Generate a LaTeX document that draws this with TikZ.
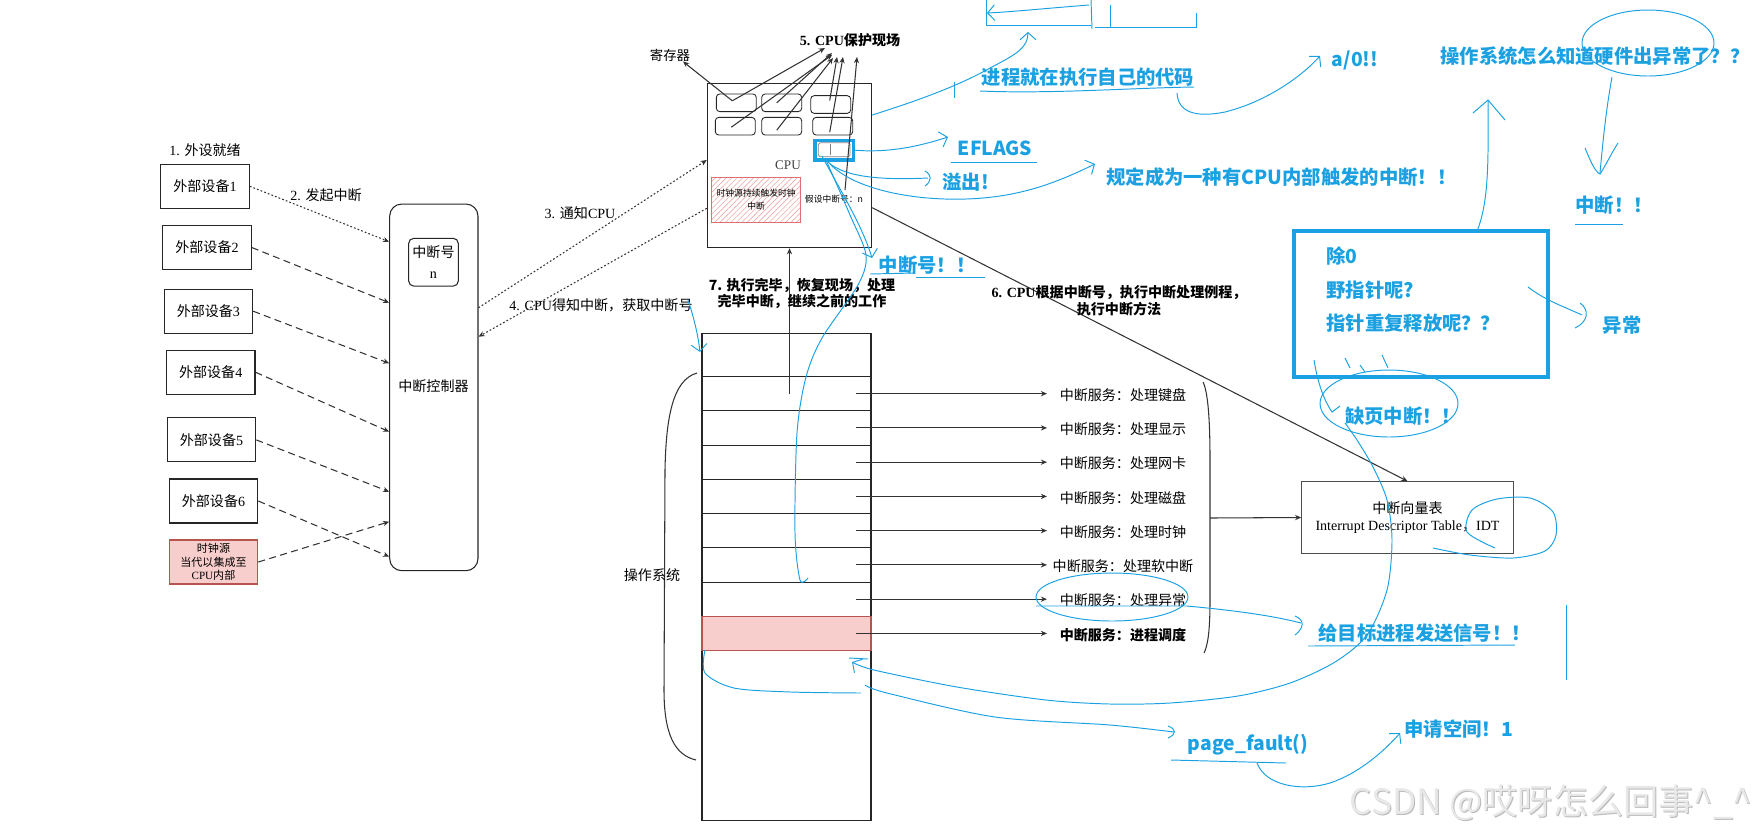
\documentclass[tikz,border=0pt]{standalone}
\usepackage{fontspec}
\setmainfont{Liberation Serif}
\newfontfamily\cjk{Noto Sans CJK SC}
\newcommand{\zh}[1]{{\cjk #1}}
\usetikzlibrary{arrows.meta, calc, patterns.meta}
\definecolor{hblue}{HTML}{1BA1E2}
\definecolor{pinkfill}{HTML}{F8CECC}
\definecolor{pinkline}{HTML}{B85450}
\definecolor{hatchred}{HTML}{E07070}

\begin{document}
\begin{tikzpicture}[x=0.02cm, y=-0.02cm, >={Stealth[length=3.5pt,width=3pt]},
  every node/.style={font=\fontsize{8}{9.6}\selectfont, inner sep=0pt},
  dev/.style={draw=black!85, line width=0.6pt, minimum width=1.772cm, minimum height=0.88cm, align=center},
  reg/.style={draw=black!85, line width=0.5pt, rounded corners=2pt, minimum width=0.8cm, minimum height=0.354cm},
  cell/.style={draw=black!85, line width=0.6pt, minimum width=3.38cm, minimum height=0.685cm, anchor=north},
  conn/.style={draw=black!80, line width=0.6pt},
  irqline/.style={conn, dash pattern=on 4pt off 2.5pt},
  dotline/.style={conn, dash pattern=on 1pt off 1.2pt},
  svc/.style={font=\cjk\fontsize{8}{9.6}\selectfont},
  hand/.style={draw=hblue, line width=0.55pt},
  handarrow/.style={hand, -{Straight Barb[length=4pt,width=9pt]}},
  note/.style={text=hblue, font=\cjk\bfseries\fontsize{11}{13}\selectfont},
]
\useasboundingbox (0,0) rectangle (1754,833);

% devices and interrupt controller
\node (ready) at (205,150) {1. \zh{外设就绪}};
\node[dev] (dev1) at (205,186.3) {\zh{外部设备}1};
\node[dev] (dev2) at (207,247.5) {\zh{外部设备}2};
\node[dev] (dev3) at (208.4,311.2) {\zh{外部设备}3};
\node[dev] (dev4) at (210.7,372.2) {\zh{外部设备}4};
\node[dev] (dev5) at (211.5,439.9) {\zh{外部设备}5};
\node[dev] (dev6) at (213.5,501) {\zh{外部设备}6};
\node[dev, fill=pinkfill, draw=pinkline, font=\fontsize{6.3}{7.6}\selectfont] (clk) at (213.5,562) {\zh{时钟源}\\\zh{当代以集成至}\\CPU\zh{内部}};

\node[draw=black!85, line width=0.6pt, rounded corners=0.24cm, minimum width=1.766cm, minimum height=7.334cm] (ctrl) at (433.85,387.35) {};
\node (ctrlname) at (433.5,386) {\zh{中断控制器}};
\node[draw=black!85, line width=0.6pt, rounded corners=0.1cm, minimum width=0.992cm, minimum height=0.954cm, align=center] (irqno) at (433.5,262.2) {\zh{中断号}\\[2pt]n};
\node (raise) at (326,195) {2. \zh{发起中断}};

\draw[dotline,->] (dev1.east) -- (ctrl.west |- 0,241.7);
\draw[irqline,->] (dev2.east) -- (ctrl.west |- 0,302.7);
\draw[irqline,->] (dev3.east) -- (ctrl.west |- 0,363.3);
\draw[irqline,->] (dev4.east) -- (ctrl.west |- 0,431.7);
\draw[irqline,->] (dev5.east) -- (ctrl.west |- 0,491.7);
\draw[irqline,->] (dev6.east) -- (ctrl.west |- 0,556.7);
\draw[irqline,->] (clk.east) -- (ctrl.west |- 0,521.7);

% cpu
\node[draw=black!85, line width=0.6pt, minimum width=3.288cm, minimum height=3.288cm] (cpu) at (789.5,165.5) {};
\node[text=black!75, font=\fontsize{7.5}{9}\selectfont] (cpulbl) at (788,165) {CPU};
\node[reg] (r11) at (736.3,102.8) {};
\node[reg] (r12) at (781.7,102.8) {};
\node[reg] (r13) at (830.7,104.5) {};
\node[reg] (r21) at (735.3,126.2) {};
\node[reg] (r22) at (781.7,126.2) {};
\node[reg] (r23) at (832.7,126.2) {};
\node[draw=gray, line width=0.4pt, rounded corners=1pt, minimum width=0.634cm, minimum height=0.28cm] (flagreg) at (834.2,149.7) {};
\node[draw=hblue, line width=1.8pt, minimum width=0.766cm, minimum height=0.394cm] (eflags) at (834.2,150.2) {};
\draw[draw=gray, line width=0.4pt] (830.7,144) -- (830.7,155);
\node[draw=hatchred, line width=0.6pt, pattern={Lines[angle=45,distance=2.2pt,line width=0.35pt]}, pattern color=hatchred!60, minimum width=1.78cm, minimum height=0.9cm, align=center, font=\cjk\fontsize{5}{7}\selectfont] (clkint) at (756.2,199.8) {时钟源持续触发时钟\\中断};
\node[font=\cjk\fontsize{5}{6}\selectfont] (irqn) at (834,199) {假设中断号：n};
\node[font=\cjk\fontsize{7.6}{9}\selectfont] (regname) at (670,55) {寄存器};
\node[font=\bfseries\fontsize{8}{9.6}\selectfont] (save) at (850,40) {5. CPU\zh{保护现场}};

\draw[conn,->] ([shift={(-4,-2)}]r11.center) -- ($(regname.south)+(13,0)$);
\draw[conn,->] ([shift={(-4,-2)}]r11.center) -- ($(save)+(-25,8)$);
\draw[conn,->] ([shift={(-4,1)}]r21.center) -- ($(save)+(-18,15)$);
\draw[conn,->] ([shift={(-5,0)}]r12.center) -- ($(save)+(-18,13)$);
\draw[conn,->] ([shift={(-5,4)}]r22.center) -- ($(save)+(-17,18)$);
\draw[conn,->] ([shift={(-1,-4)}]r13.center) -- ($(save)+(-13,17)$);
\draw[conn,->] ([shift={(-3,6)}]r23.center) -- ($(save)+(-7,17)$);
\draw[conn,->] ([shift={(11,-9)}]irqn.center) -- ($(save)+(7,17)$);

\draw[dotline,->] (ctrl.east |- 0,307.7) -- (cpu.west |- 0,160);
\draw[dotline,->] (cpu.west |- 0,208.3) -- (ctrl.east |- 0,336.7);
\node (notify) at (580,212.7) {3. \zh{通知}CPU};
\node (fetch) at (601,305) {4. CPU\zh{得知中断，获取中断号}};

% os table
\node[cell, minimum height=3.4cm] (row9) at (786.5,650) {};
\node[cell, minimum height=0.86cm] (row0) at (786.5,333) {};
\coordinate (svcx) at (1047,0);
\foreach \i/\txt in {1/处理键盘,2/处理显示,3/处理网卡,4/处理磁盘,5/处理时钟,6/处理软中断,7/处理异常} {
  \node[cell] (row\i) at (786.5,{376+34.25*(\i-1)}) {};
  \node[svc] (svc\i) at (1123,{376+34.25*(\i-1)+19}) {中断服务：\txt};
  \draw[conn,->] ([xshift=-0.32cm]row\i.east) -- (row\i.east -| svcx);
}
\node[cell, fill=pinkfill, draw=pinkline] (row8) at (786.5,615.75) {};
\node[svc, font=\cjk\bfseries\fontsize{8}{9.6}\selectfont] (svc8) at (1123,634.75) {中断服务：进程调度};
\draw[conn,->] ([xshift=-0.32cm]row8.east) -- (row8.east -| svcx);

\draw[conn,->] (row1.center -| cpu.south) -- (cpu.south);
\node[font=\cjk\bfseries\fontsize{8}{9.6}\selectfont, align=center] (resume) at (802,293.5) {7. 执行完毕，恢复现场，处理\\完毕中断，继续之前的工作};

\draw[conn] (697,373) .. controls (672,380) and (666,420) .. (665,470) -- (664,690) .. controls (664,735) and (675,755) .. (696,760);
\node (os) at (652,575) {\zh{操作系统}};
\draw[conn] (1203,382) .. controls (1208,392) and (1210,420) .. (1210,460) -- (1210,600) .. controls (1210,630) and (1208,645) .. (1204,653);
\coordinate (bracetip) at (1210,518);

% idt
\node[draw=black!70, line width=0.6pt, minimum width=4.232cm, minimum height=1.432cm, align=center] (idt) at (1407.5,517.5) {\zh{中断向量表}\\[0.5pt]Interrupt Descriptor Table\zh{，}IDT};
\draw[conn,->] (bracetip) -- (idt.west);
\draw[conn,->] (cpu.east |- 0,207.7) -- (idt.north);
\node[font=\bfseries\fontsize{8}{9.6}\selectfont, align=center] (route) at (1119,301) {6. CPU\zh{根据中断号，执行中断处理例程，}\\\zh{执行中断方法}};

% hand notes
\node[note] (own) at (1088,77) {进程就在执行自己的代码};
\node[note] (div) at (1355,60) {a/0!!};
\node[note, anchor=west] (howos) at (1440,56) {操作系统怎么知道硬件出异常了？？};
\node[note] (eflagtxt) at (995,148) {EFLAGS};
\node[note, anchor=west] (ovf) at (942,182) {溢出!};
\node[note, anchor=west] (rule) at (1106,177) {规定成为一种有CPU内部触发的中断！！};
\node[note] (irqnote) at (927,265) {中断号！！};
\node[note, anchor=west] (intr) at (1575,205) {中断！！};
\node[draw=hblue, line width=2pt, minimum width=5.08cm, minimum height=2.92cm] (qbox) at (1421,304) {};
\node[note, anchor=west] (div0) at (1326,256) {除0};
\node[note, anchor=west] (wild) at (1326,290) {野指针呢?};
\node[note, anchor=west] (dfree) at (1326,323) {指针重复释放呢？？};
\node[note] (exc) at (1622,325) {异常};
\node[note] (pf) at (1403,416) {缺页中断！！};
\node[note, anchor=west] (sig) at (1318,633) {给目标进程发送信号！！};
\node[note] (pfault) at (1248,745) {page\_fault()};
\node[note, anchor=west] (alloc) at (1404,729) {申请空间！1};

\draw[hand] (986,0) -- (986,25) -- (1091,25);
\draw[hand] (1091,0) -- (1092,29);
\draw[handarrow] (1089,5) .. controls (1050,8) and (1010,12) .. (987,13);
\draw[hand] (1095,27) -- (1196,27);
\draw[hand] (1110,5) -- (1110,28);
\draw[hand] (1196,13) -- (1196,28);
\draw[handarrow] (cpu.east |- 0,115) .. controls (920,100) and (960,85) .. (990,68) .. controls (1015,55) and (1028,48) .. (1028,32);
\draw[hand] (954,82) -- (954,98);
\draw[hand] (980,91) .. controls (1050,94) and (1130,88) .. (1194,87);
\draw[handarrow] (1177,93) .. controls (1178,112) and (1195,118) .. (1225,112) .. controls (1265,102) and (1300,78) .. (1320,56);

\draw[handarrow] (eflags.east) .. controls (890,153) and (920,146) .. (948,137);
\draw[hand] (951,162) -- (1037,162);
\draw[hand] (828,162) .. controls (845,178) and (885,180) .. (928,178);
\draw[hand] (925,171) .. controls (932,175) and (932,181) .. (925,186);
\draw[handarrow] (830,164) .. controls (860,195) and (940,205) .. (1000,196) .. controls (1040,190) and (1070,176) .. (1095,164);
\draw[handarrow] (822,156) .. controls (840,190) and (862,225) .. (872,258);
\draw[hand] (870,274) -- (915,273);
\draw[hand] (916,277) -- (985,277);
\draw[hand] plot[smooth] coordinates {(826,160) (850,215) (866,255) (858,285) (822,338) (806,377) (797,433) (795,533) (800,580) (808,578)};
\draw[handarrow] (688,300) .. controls (694,318) and (698,335) .. (700,352);

\draw[hand] (1648,43) ellipse [x radius=1.32cm, y radius=0.66cm];
\draw[hand] (1612,77) .. controls (1606,110) and (1603,140) .. (1600,173);
\draw[hand] (1585,148) .. controls (1590,160) and (1595,172) .. (1600,174) .. controls (1606,165) and (1612,152) .. (1618,143);
\draw[hand] (1575,224) -- (1623,224);
\draw[hand] (1477,231) .. controls (1490,200) and (1488,150) .. (1488,100);
\draw[hand] (1473,113) -- (1488,100) -- (1505,120);
\draw[hand] (1528,287) .. controls (1545,300) and (1560,305) .. (1582,315);
\draw[hand] (1580,303) .. controls (1590,310) and (1588,322) .. (1575,328);

\draw[hand] (1389,403.5) ellipse [x radius=1.38cm, y radius=0.67cm];
\draw[hand] (1314,360) .. controls (1318,385) and (1325,402) .. (1332,412) -- (1340,406);
\draw[hand] (1345,358) -- (1350,368);
\draw[hand] (1360,365) -- (1365,372);
\draw[hand] (1382,355) -- (1388,368);
\draw[handarrow] plot[smooth] coordinates {(1345,423) (1357,440) (1373,467) (1387,500) (1392,540) (1387,590) (1367,635) (1335,662) (1290,683) (1238,696) (1170,703) (1110,704) (1046,700) (957,687) (874,670) (852,662)};
\draw[hand] plot[smooth] coordinates {(1495,548) (1467,532) (1472,510) (1497,499) (1530,498) (1553,512) (1556,535) (1545,551) (1513,558) (1470,555) (1433,548)};

\draw[hand] (1112,597) ellipse [x radius=1.52cm, y radius=0.48cm];
\draw[hand] (1036,606) -- (1187,606) .. controls (1230,610) and (1270,615) .. (1301,623);
\draw[hand] (1295,616) .. controls (1305,620) and (1304,628) .. (1295,635);
\draw[hand] (1308,646) -- (1515,645);
\draw[hand] (1566,605) -- (1566,680);
\draw[hand] plot[smooth] coordinates {(705,650) (705,673) (734,688) (791,692) (861,693)};
\draw[hand] (849,658) -- (868,659);
\draw[hand] plot[smooth] coordinates {(865,685) (887,693) (995,717) (1110,725) (1174,732)};
\draw[hand] (1168,726) .. controls (1176,729) and (1177,734) .. (1168,738);
\draw[hand] (1171,760) -- (1286,763);
\draw[handarrow] (1257,763) .. controls (1265,785) and (1300,792) .. (1330,783) .. controls (1360,773) and (1385,750) .. (1400,733);

% watermark
\node[font=\cjk\fontsize{20}{24}\selectfont, text=gray!55] (markshadow) at (1552,804) {CSDN @哎呀怎么回事\textasciicircum\_\textasciicircum};
\node[font=\cjk\fontsize{20}{24}\selectfont, text=gray!18] (mark) at (1551,803) {CSDN @哎呀怎么回事\textasciicircum\_\textasciicircum};
\end{tikzpicture}
\end{document}
